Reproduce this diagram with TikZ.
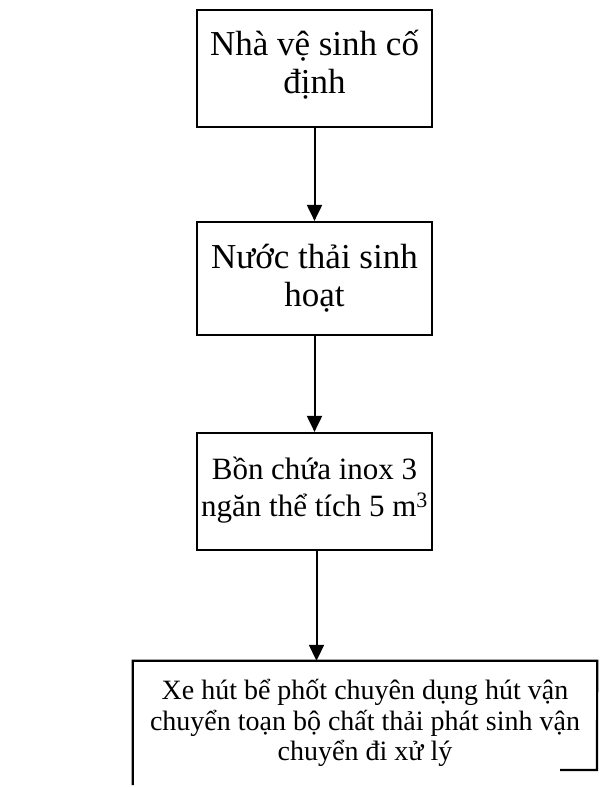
\documentclass[tikz,border=0pt]{standalone}
\usepackage{fontspec}
\setmainfont{Liberation Serif}
\usetikzlibrary{arrows.meta}
\tikzset{
  flowbox/.style={draw=black, line width=2.2pt, rectangle, align=center, inner sep=0pt},
  openbox/.style={draw=none, rectangle, align=center, inner sep=0pt},
  flowarrow/.style={line width=2pt, -{Triangle[length=16pt,width=15pt]}},
  frameline/.style={line width=2.2pt}
}
\begin{document}
\begin{tikzpicture}[x=1pt,y=-1pt]
\useasboundingbox[fill=white] (0,0) rectangle (602,787);
\node[flowbox, minimum width=235pt, minimum height=117pt, text depth=14pt,
  font=\fontsize{35}{38}\selectfont] (b1) at (314.5,68.5)
  {Nhà vệ sinh cố\\định};
\node[flowbox, minimum width=235pt, minimum height=113pt,
  font=\fontsize{35}{38}\selectfont] (b2) at (314.5,278.5)
  {Nước thải sinh\\hoạt};
\node[flowbox, minimum width=235pt, minimum height=117pt, text depth=10pt,
  font=\fontsize{31}{37}\selectfont] (b3) at (314.5,491.5)
  {Bồn chứa inox 3\\ngăn thể tích 5 m\textsuperscript{\fontsize{22}{22}\selectfont 3}};
\node[openbox, minimum width=464pt, minimum height=124pt,
  font=\fontsize{28}{30.5}\selectfont] (b4) at (365,723)
  {Xe hút bể phốt chuyên dụng hút vận\\chuyển toạn bộ chất thải phát sinh vận\\chuyển đi xử lý};
\coordinate (b4br) at (597,770);
\coordinate (b4bs) at (560,770);
\draw[frameline] (b4.south west) -- (b4.north west) -- (b4.north east) -- (b4br) -- (b4bs);
\draw[flowarrow] (b1.south) -- (b2.north);
\draw[flowarrow] (b2.south) -- (b3.north);
\draw[flowarrow] ([xshift=2pt]b3.south) -- ([xshift=2pt]b3.south |- b4.north);
\end{tikzpicture}
\end{document}
